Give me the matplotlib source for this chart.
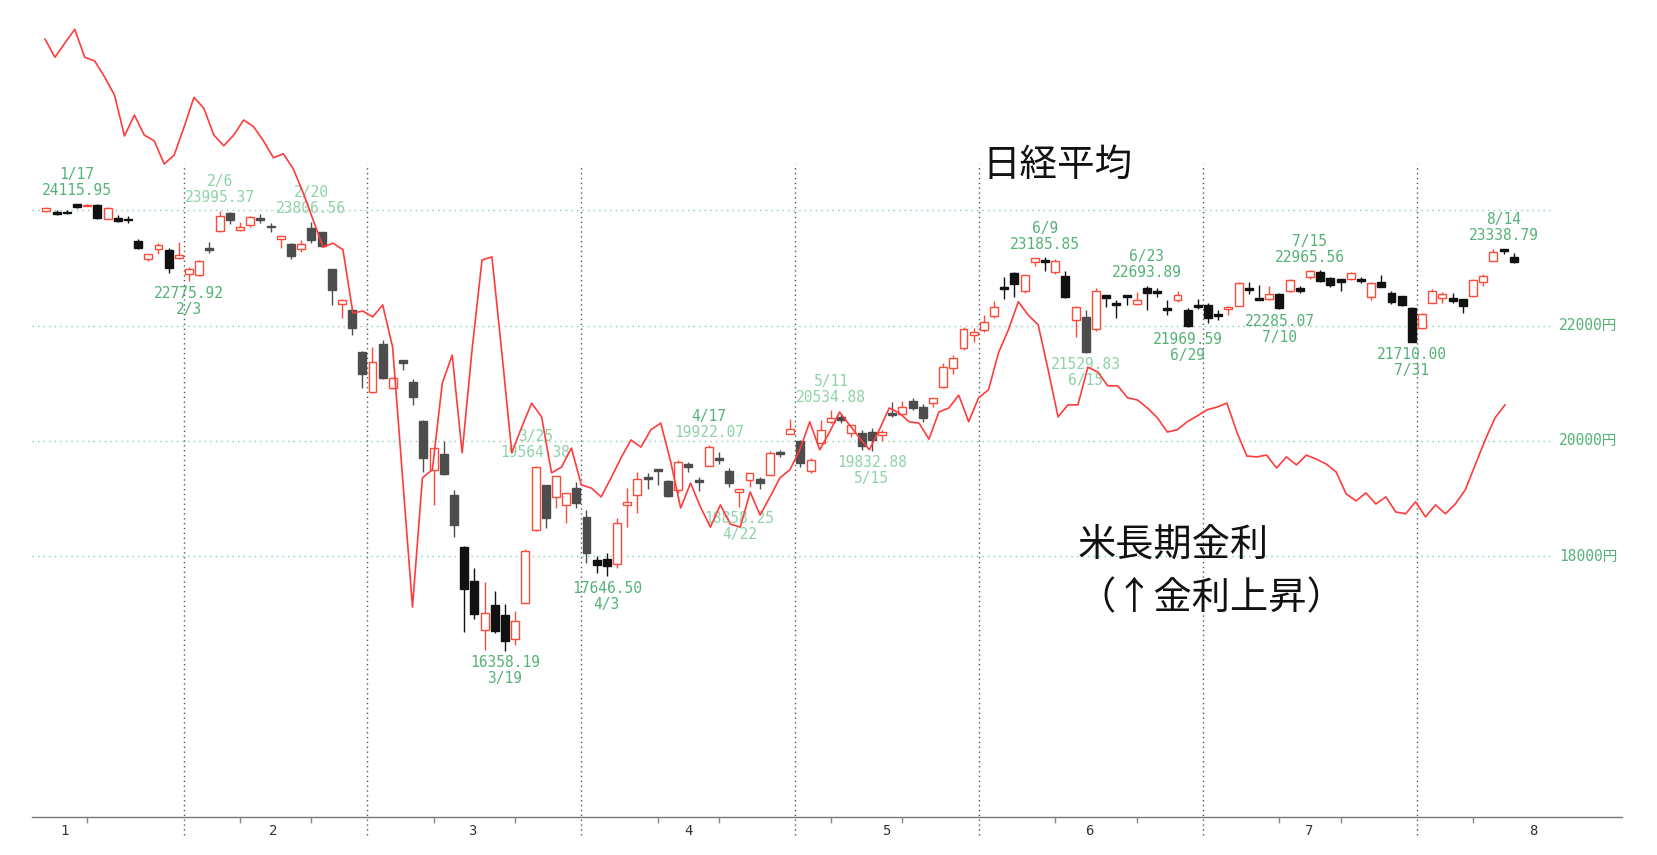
import numpy as np
import pandas as pd
import matplotlib
matplotlib.use('Agg')
import matplotlib.pyplot as plt

plt.rcParams['font.family'] = ['DejaVu Sans Mono', 'Noto Sans CJK JP']

# ---------------- data ----------------
holidays = ['2020-02-11', '2020-02-24', '2020-03-20', '2020-04-29', '2020-05-04',
            '2020-05-05', '2020-05-06', '2020-07-23', '2020-07-24', '2020-08-10']
dates = [d for d in pd.bdate_range('2020-01-14', '2020-08-17')
         if d.strftime('%Y-%m-%d') not in holidays]

opens = [23990, 23970, 23975, 24110, 24080, 24100, 23858, 23865, 23850, 23465,
         23150, 23325, 23315, 23175, 22890, 22875, 23345, 23650, 23950, 23660,
         23750, 23865, 23730, 23510, 23420, 23340, 23700, 23620, 22985, 22380,
         22270, 21550, 20845, 21675, 20915, 21405, 21028, 20346, 19495, 19768,
         19060, 18165, 17573, 16716, 17150, 16980, 16560, 17192, 18446, 19234,
         19021, 18887, 19190, 18684, 17932, 17945, 17863, 18887, 19060, 19365,
         19505, 19300, 19147, 19600, 19310, 19565, 19700, 19480, 19120, 19320,
         19335, 19408, 19810, 20120, 20000, 19470, 19970, 20333, 20410, 20145,
         20145, 20160, 20105, 20480, 20467, 20700, 20593, 20653, 20940, 21260,
         21607, 21838, 21925, 22168, 22667, 22910, 22608, 23110, 23140, 22940,
         22865, 22100, 22156, 21937, 22533, 22390, 22533, 22377, 22650, 22590,
         22312, 22446, 22272, 22360, 22360, 22203, 22290, 22342, 22660, 22486,
         22463, 22550, 22602, 22650, 22840, 22937, 22823, 22805, 22805, 22805,
         22493, 22764, 22562, 22516, 22302, 21955, 22400, 22476, 22486, 22458,
         22516, 22764, 23128, 23339, 23198]
highs = [24065, 24000, 24010, 24116, 24105, 24110, 24060, 23920, 23900, 23500,
         23245, 23430, 23345, 23460, 23025, 23140, 23450, 23995, 23980, 23805,
         23910, 23940, 23790, 23560, 23440, 23490, 23806, 23630, 22990, 22460,
         22300, 21560, 21635, 21752, 21110, 21410, 21070, 20363, 19880, 20005,
         19147, 18170, 17790, 17556, 17400, 17170, 17050, 18120, 19564, 19240,
         19395, 19095, 19280, 18800, 18000, 18050, 18657, 19175, 19466, 19435,
         19510, 19320, 19670, 19640, 19370, 19922, 19800, 19525, 19165, 19445,
         19370, 19830, 19850, 20375, 20010, 19700, 20365, 20535, 20450, 20275,
         20190, 20220, 20190, 20680, 20700, 20740, 20640, 20745, 21347, 21491,
         21972, 21955, 22186, 22434, 22840, 22937, 22885, 23180, 23186, 23150,
         22955, 22342, 22272, 22650, 22540, 22446, 22540, 22590, 22694, 22650,
         22446, 22603, 22302, 22463, 22389, 22272, 22342, 22764, 22764, 22707,
         22690, 22573, 22810, 22690, 22966, 22960, 22850, 22810, 22937, 22850,
         22764, 22880, 22608, 22520, 22330, 22226, 22632, 22590, 22573, 22460,
         22810, 22892, 23331, 23339, 23257]
lows = [23975, 23915, 23935, 24040, 24070, 23850, 23850, 23795, 23780, 23330,
        23130, 23245, 22910, 23150, 22776, 22860, 23255, 23632, 23765, 23650,
        23720, 23780, 23625, 23350, 23150, 23280, 23440, 23370, 22360, 22130,
        21840, 20915, 20827, 21070, 20900, 21230, 20623, 19465, 18887, 19408,
        18337, 16690, 16903, 16369, 16660, 16358, 16460, 17180, 18440, 18493,
        18830, 18580, 18830, 17875, 17715, 17647, 17790, 18500, 18744, 19160,
        19234, 19020, 19090, 19465, 19135, 19560, 19600, 19195, 18858, 19205,
        19160, 19400, 19720, 20115, 19550, 19450, 19960, 20305, 20305, 20060,
        19840, 19833, 20005, 20420, 20450, 20535, 20333, 20595, 20913, 21162,
        21578, 21722, 21896, 22128, 22458, 22503, 22573, 23030, 22955, 22900,
        22487, 21810, 21530, 21913, 22330, 22128, 22360, 22360, 22272, 22493,
        22186, 22416, 21970, 22285, 22042, 22099, 22186, 22340, 22550, 22446,
        22446, 22285, 22590, 22560, 22805, 22760, 22667, 22602, 22793, 22735,
        22446, 22667, 22377, 22342, 21710, 21937, 22390, 22390, 22390, 22226,
        22490, 22690, 23125, 23245, 23083]
closes = [24040, 23950, 23955, 24060, 24095, 23875, 24050, 23820, 23830, 23355,
          23240, 23400, 22995, 23222, 22985, 23125, 23325, 23910, 23835, 23710,
          23880, 23830, 23710, 23555, 23210, 23420, 23480, 23390, 22620, 22450,
          21955, 21160, 21365, 21087, 21100, 21350, 20768, 19698, 19872, 19420,
          18540, 17425, 16995, 17007, 16700, 16530, 16880, 18095, 19548, 18657,
          19389, 19090, 18930, 18059, 17846, 17830, 18570, 18944, 19338, 19340,
          19480, 19035, 19640, 19545, 19300, 19900, 19670, 19275, 19160, 19440,
          19265, 19795, 19770, 20205, 19620, 19675, 20190, 20390, 20365, 20270,
          19915, 20015, 20150, 20445, 20595, 20565, 20390, 20740, 21278, 21434,
          21937, 21896, 22070, 22330, 22632, 22718, 22880, 23170, 23100, 23125,
          22490, 22320, 21540, 22602, 22475, 22372, 22493, 22446, 22563, 22573,
          22272, 22533, 21995, 22330, 22128, 22168, 22320, 22746, 22620, 22450,
          22550, 22302, 22793, 22610, 22955, 22780, 22707, 22765, 22910, 22780,
          22736, 22677, 22417, 22359, 21712, 22203, 22602, 22550, 22434, 22342,
          22793, 22868, 23274, 23300, 23111]

# US 10-year yield (%), daily, own trading calendar
us10y = [1.812, 1.771, 1.803, 1.834, 1.771, 1.763, 1.727, 1.686, 1.594, 1.641,
         1.596, 1.583, 1.531, 1.551, 1.614, 1.681, 1.656, 1.596, 1.572, 1.596,
         1.630, 1.615, 1.583, 1.545, 1.554, 1.520, 1.466, 1.405, 1.344, 1.353,
         1.338, 1.196, 1.200, 1.187, 1.214, 1.119, 0.827, 0.534, 0.825, 0.843,
         1.038, 1.101, 0.881, 1.113, 1.315, 1.322, 1.106, 0.881, 0.939, 0.993,
         0.962, 0.836, 0.849, 0.892, 0.809, 0.802, 0.782, 0.825, 0.870, 0.910,
         0.894, 0.933, 0.948, 0.861, 0.757, 0.813, 0.759, 0.714, 0.764, 0.721,
         0.714, 0.793, 0.741, 0.782, 0.825, 0.843, 0.888, 0.951, 0.888, 0.928,
         0.973, 0.944, 0.915, 0.888, 0.933, 0.982, 0.971, 0.951, 0.948, 0.912,
         0.973, 0.982, 1.011, 0.951, 1.005, 1.023, 1.106, 1.158, 1.221, 1.191,
         1.169, 1.068, 0.962, 0.989, 0.989, 1.074, 1.063, 1.032, 1.032, 1.005,
         1.000, 0.982, 0.960, 0.928, 0.933, 0.951, 0.964, 0.978, 0.984, 0.993,
         0.928, 0.874, 0.872, 0.876, 0.847, 0.872, 0.854, 0.876, 0.867, 0.856,
         0.838, 0.789, 0.773, 0.791, 0.766, 0.782, 0.748, 0.744, 0.771, 0.737,
         0.764, 0.744, 0.766, 0.798, 0.854, 0.910, 0.960, 0.989]

label_dates = ['1/17', '2/3', '2/6', '2/20', '3/19', '3/25', '4/3', '4/17', '4/22',
               '5/11', '5/15', '6/9', '6/15', '6/23', '6/29', '7/10', '7/15', '7/31', '8/14']
label_kinds = ['H', 'L', 'H', 'H', 'L', 'H', 'L', 'H', 'L',
               'H', 'L', 'H', 'L', 'H', 'L', 'L', 'H', 'L', 'H']
label_values = ['24115.95', '22775.92', '23995.37', '23806.56', '16358.19', '19564.38',
                '17646.50', '19922.07', '18858.25', '20534.88', '19832.88', '23185.85',
                '21529.83', '22693.89', '21969.59', '22285.07', '22965.56', '21710.00',
                '23338.79']
label_light = [False, False, True, True, False, True, False, True, True,
               True, True, False, True, False, False, False, False, False, False]

month_names = ['1', '2', '3', '4', '5', '6', '7', '8']
grid_levels = [18000, 20000, 22000, 24000]
right_labels = [18000, 20000, 22000]

# ---------------- styles ----------------
RED = '#ff4a3a'
LINE_RED = '#ff3c3c'
BLACK = '#111111'
GRAY = '#4d4d4d'
GREEN = '#55b277'
LIGHT_GREEN = '#8fd2a8'
GRID_GREEN = '#8ccfa4'

W, H = 1658, 855
fig = plt.figure(figsize=(W / 100, H / 100), dpi=100)
rect = [32 / W, (H - 817) / H, 1590 / W, 817 / H]
ax = fig.add_axes(rect)
ax.set_xlim(-1.413, 154.62)
ax.set_ylim(13470.5, 27654.5)

n = len(dates)
idx = np.arange(n)
key = {f'{d.month}/{d.day}': i for i, d in enumerate(dates)}


def is_gray(d):
    s = d.strftime('%Y-%m-%d')
    if '2020-02-05' <= s <= '2020-05-29':
        if '2020-03-13' <= s <= '2020-03-19' or '2020-04-02' <= s <= '2020-04-03':
            return False
        return True
    return s == '2020-06-15'


# grid lines
for g in grid_levels:
    ax.hlines(g, -1.413, 147.6, colors=GRID_GREEN, linestyles=(0, (1, 3)), lw=1.0, zorder=0)

# month separators
month_first = [i for i in range(1, n) if dates[i].month != dates[i - 1].month]
for i in month_first:
    ax.axvline(i - 0.5, ymin=-0.022, ymax=0.799, color='#555555',
               ls=(0, (1, 2.5)), lw=1.0, zorder=0, clip_on=False)

# candles
bw = 0.78
min_h = 26
for i in idx:
    o, h, l, c = opens[i], highs[i], lows[i], closes[i]
    up = c >= o
    col = RED if up else (GRAY if is_gray(dates[i]) else BLACK)
    ax.vlines(i, l, h, colors=col, lw=1.0, zorder=2)
    bot = min(o, c)
    hh = max(abs(c - o), min_h)
    if abs(c - o) < min_h:
        bot = (o + c) / 2 - min_h / 2
    ax.bar(i, hh, bottom=bot, width=bw,
           facecolor='white' if up else col,
           edgecolor=col, lw=1.0, zorder=3)

# high / low labels
for d, k, v, light in zip(label_dates, label_kinds, label_values, label_light):
    i = key[d]
    col = LIGHT_GREEN if light else GREEN
    val = float(v)
    if k == 'H':
        ax.annotate(v, (i, val), xytext=(0, 9.4), textcoords='offset points',
                    ha='center', va='center', fontsize=10.5, color=col, zorder=4)
        ax.annotate(d, (i, val), xytext=(0, 20.9), textcoords='offset points',
                    ha='center', va='center', fontsize=10.5,
                    color=GREEN if d == '4/17' else col, zorder=4)
    else:
        ax.annotate(v, (i, val), xytext=(0, -8.7), textcoords='offset points',
                    ha='center', va='center', fontsize=10.5, color=col, zorder=4)
        ax.annotate(d, (i, val), xytext=(0, -20.2), textcoords='offset points',
                    ha='center', va='center', fontsize=10.5, color=col, zorder=4)

# right-side price labels
for r in right_labels:
    ax.text(0.9969, r, f'{r}円', transform=ax.get_yaxis_transform(),
            ha='right', va='center', fontsize=10.5, color=GREEN)

# axes styling
for s in ['top', 'left', 'right']:
    ax.spines[s].set_visible(False)
ax.spines['bottom'].set_color('#777777')
ax.spines['bottom'].set_linewidth(1.0)
ax.set_yticks([])
month_pos = [1.8, 22.3, 41.8, 63.0, 82.4, 102.3, 123.9, 145.9]
ax.set_xticks(month_pos)
ax.set_xticklabels(month_names, fontsize=10, color='#333333')
ax.tick_params(axis='x', which='major', length=0, pad=5)
minor = []
for i in range(1, n):
    d0, d1 = dates[i - 1], dates[i]
    for day in (10, 20):
        if d1.day >= day and (d0.day < day or d0.month != d1.month) and d1.month == d0.month:
            minor.append(i)
ax.set_xticks(minor, minor=True)
ax.tick_params(axis='x', which='minor', length=4, color='#888888', width=1)

# US yield overlay
ax2 = fig.add_axes(rect, frameon=False)
ax2.set_xlim(-1.309, 158.78)
ax2.set_ylim(1.9 - 817 * 0.00225, 1.9)
ax2.plot(np.arange(len(us10y)), us10y, color=LINE_RED, lw=1.2, zorder=5)
ax2.set_xticks([])
ax2.set_yticks([])

# series titles
cjk = ['Noto Sans CJK JP', 'DejaVu Sans']
fig.text(1057 / W, 1 - 165 / H, '日経平均', ha='center', va='center',
         fontsize=27, family=cjk, color='#111111')
fig.text(1173 / W, 1 - 545 / H, '米長期金利', ha='center', va='center',
         fontsize=27.5, family=cjk, color='#111111')
fig.text(1211 / W, 1 - 599 / H, '（↑金利上昇）', ha='center', va='center',
         fontsize=27.5, family=cjk, color='#111111')

fig.savefig('out.png', dpi=100, facecolor='white')
